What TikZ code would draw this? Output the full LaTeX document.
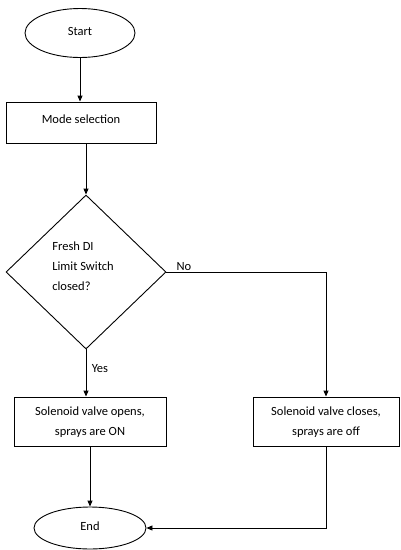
\documentclass[tikz,border=0pt]{standalone}
\usepackage{fontspec}
\setmainfont{Carlito}
\usetikzlibrary{shapes.geometric,arrows.meta}
\begin{document}
\begin{tikzpicture}[x=1pt,y=-1pt,
  every node/.style={font=\fontsize{12.5}{20}\selectfont},
  line/.style={draw=black,line width=0.9pt},
  arr/.style={line,-{Triangle[length=6pt,width=5pt]}},
  term/.style={ellipse,line,inner sep=0pt},
  proc/.style={rectangle,line,inner sep=0pt,align=center},
  decide/.style={diamond,line,inner sep=0pt,minimum width=160pt,minimum height=154pt}]
\useasboundingbox (0,0) rectangle (400,550);

% terminals, process boxes and the decision
\node[term,minimum width=110pt,minimum height=49pt] (start) at (80,33) {\raisebox{3pt}{Start}};
\node[proc,minimum width=150pt,minimum height=41pt] (mode) at (81,122.5) {\raisebox{6pt}{Mode selection}};
\node[decide] (dec) at (86,272) {};
\node[align=left,inner sep=0pt] (dectext) at (83,266) {Fresh DI\\Limit Switch\\closed?};
\node[proc,minimum width=152pt,minimum height=49pt] (yes) at (90,421.5)
  {\raisebox{-2pt}{\begin{tabular}{@{}c@{}}Solenoid valve opens,\\sprays are ON\end{tabular}}};
\node[proc,minimum width=146pt,minimum height=49pt] (no) at (326,421.5)
  {\raisebox{-2pt}{\begin{tabular}{@{}c@{}}Solenoid valve closes,\\sprays are off\end{tabular}}};
\node[term,minimum width=112pt,minimum height=42pt] (end) at (90,528) {\raisebox{4pt}{End}};

% connectors
\draw[arr] (start.south) -- (start.south |- mode.north);
\draw[arr] (mode.south -| dec.north) -- (dec.north);
\draw[arr] (dec.south) -- node[right,pos=0.4,xshift=2pt] (yeslabel) {Yes} (dec.south |- yes.north);
\draw[arr] (dec.east) -| (no.north);
\node[anchor=south west,inner sep=1pt] (nolabel) at ([xshift=9pt]dec.east) {No};
\draw[arr] (end.north |- yes.south) -- (end.north);
\draw[arr] (no.south) |- (end.east);
\end{tikzpicture}
\end{document}
